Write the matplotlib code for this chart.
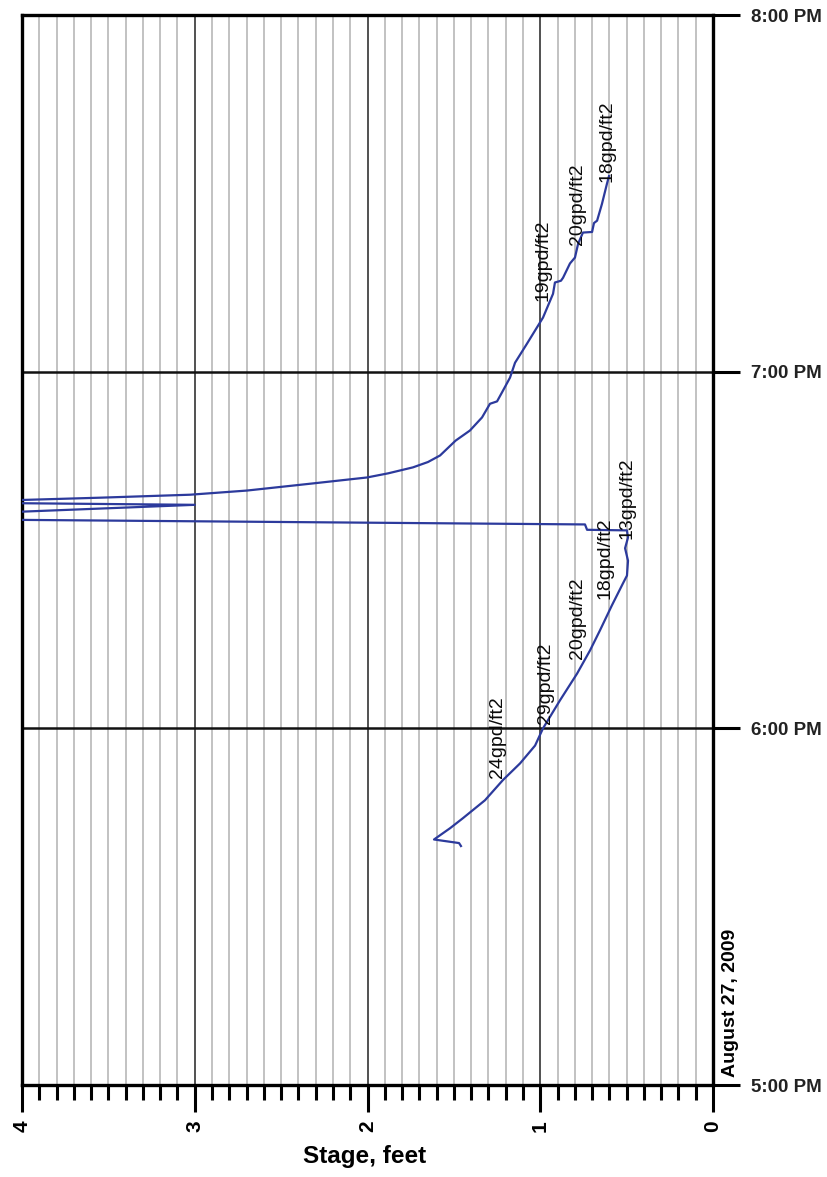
import numpy as np
import matplotlib
matplotlib.use("Agg")
import matplotlib.pyplot as plt
from matplotlib.ticker import MultipleLocator, FixedLocator

# Stage record, August 27, 2009 (time in minutes after 5:00 PM, stage in feet)
time_min = [40.2, 40.7, 41.3, 43.2, 44.9, 47.9, 51.3, 54.1, 57.1, 60.0,
            64.7, 69.2, 73.1, 76.5, 80.7, 84.4, 85.7, 88.2, 90.3, 92.1,
            93.3, 93.4, 94.3, 95.3, 97.6, 98.0, 98.5, 98.8, 99.3, 100.0,
            101.2, 102.2, 102.9, 103.9, 104.8, 105.9, 108.4, 110.1, 112.3, 114.6,
            115.0, 116.8, 119.0, 121.5, 124.7, 129.1, 133.1, 135.0, 135.3, 135.8,
            138.2, 139.2, 141.5, 143.4, 143.5, 145.0, 145.4, 148.2, 151.6, 152.9]
stage_ft = [1.459, 1.470, 1.615, 1.522, 1.447, 1.320, 1.216, 1.117, 1.030, 0.984,
            0.886, 0.787, 0.712, 0.654, 0.585, 0.521, 0.498, 0.492, 0.509, 0.492,
            0.498, 0.729, 0.741, 5.000, 3.000, 4.500, 3.900, 3.548, 3.027, 2.698,
            2.316, 2.003, 1.880, 1.737, 1.650, 1.580, 1.490, 1.407, 1.337, 1.291,
            1.250, 1.216, 1.175, 1.146, 1.077, 0.984, 0.926, 0.915, 0.880, 0.868,
            0.828, 0.799, 0.781, 0.753, 0.700, 0.689, 0.671, 0.643, 0.614, 0.602]

# Infiltration-rate annotations along the recession limbs
rate_labels = ["24gpd/ft2", "29gpd/ft2", "20gpd/ft2", "18gpd/ft2", "13gpd/ft2",
               "19gpd/ft2", "20gpd/ft2", "18gpd/ft2"]
rate_stage = [1.245, 0.967, 0.787, 0.625, 0.498, 0.984, 0.787, 0.614]
rate_time = [58.5, 67.6, 78.5, 88.6, 98.8, 138.7, 148.2, 158.8]

hour_ticks = [0, 60, 120, 180]
hour_labels = ["5:00 PM", "6:00 PM", "7:00 PM", "8:00 PM"]
stage_ticks = [0, 1, 2, 3, 4]
stage_labels = ["0", "1", "2", "3", "4"]

W, H = 827, 1177
fig = plt.figure(figsize=(W / 100, H / 100), dpi=100)
ax = fig.add_axes([22 / W, 1 - 1085 / H, (713 - 22) / W, (1085 - 15) / H])
ax.set_xlim(4, 0)
ax.set_ylim(0, 180)

font = "Liberation Sans"

# grid: light 0.1-ft lines, darker whole-foot lines, black hour lines
ax.xaxis.set_major_locator(FixedLocator(stage_ticks))
ax.xaxis.set_minor_locator(MultipleLocator(0.1))
ax.yaxis.set_major_locator(FixedLocator(hour_ticks))
ax.grid(which="minor", axis="x", color="#c2c2c2", lw=1.4)
ax.grid(which="major", axis="x", color="#333333", lw=1.2)
ax.grid(which="major", axis="y", color="#111111", lw=1.8)
ax.set_axisbelow(True)

for side in ["left", "right", "top", "bottom"]:
    ax.spines[side].set_linewidth(2.4)
    ax.spines[side].set_color("black")

ax.plot(stage_ft, time_min, color="#2c3a9c", lw=1.6, zorder=3)

for txt, s, t in zip(rate_labels, rate_stage, rate_time):
    ax.text(s, t, txt, rotation=90, ha="center", va="center",
            fontsize=14, family=font, color="#0a0a0a", zorder=4)

# x axis
ax.set_xticklabels(stage_labels, rotation=90, fontsize=15, fontweight="bold",
                   family=font)
ax.tick_params(axis="x", which="major", direction="out", length=19.5,
               width=2.2, pad=6, colors="black")
ax.tick_params(axis="x", which="minor", direction="out", length=11,
               width=2.2, colors="black")

# y axis on the right
ax.yaxis.tick_right()
ax.set_yticklabels(hour_labels, fontsize=13.5, fontweight="bold", family=font)
ax.tick_params(axis="y", which="major", direction="out", length=19.5,
               width=2.2, pad=8, colors="black")
ax.tick_params(axis="y", which="minor", left=False, right=False)
for lab in ax.get_yticklabels():
    lab.set_color("#222222")

fig.text(365 / W, 1 - 1157 / H, "Stage, feet", ha="center", va="center",
         fontsize=17.5, fontweight="bold", family=font)
ax.text(1.026, 0.0075, "August 27, 2009", transform=ax.transAxes,
        rotation=90, ha="center", va="bottom", fontsize=14,
        fontweight="bold", family=font)

fig.savefig("out.png", dpi=100, facecolor="white")
